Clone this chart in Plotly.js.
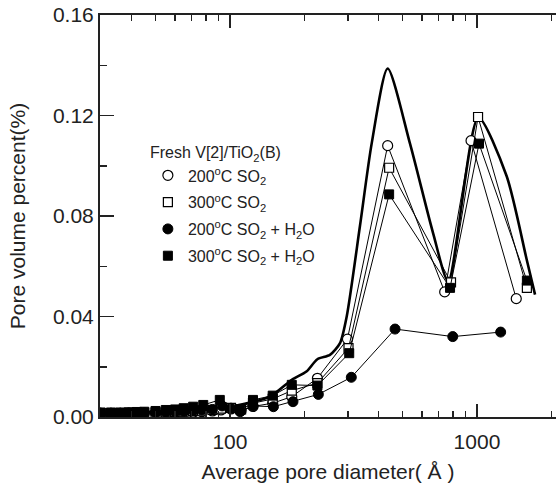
<!DOCTYPE html>
<html>
<head>
<meta charset="utf-8">
<script src="https://cdn.plot.ly/plotly-3.0.1.min.js"></script>
<style>html,body{margin:0;padding:0;background:#fff;}#chart{width:556px;height:483px;}</style>
</head>
<body>
<div id="chart"></div>
<script>
// Fresh V[2]/TiO2(B) (thick curve)
const freshX = [30, 40, 50, 60, 70, 80, 90, 100, 145, 178, 204, 226, 254, 279, 297, 336, 375, 435, 535, 665, 765, 1012, 1318, 1589, 1718];
const freshY = [0.0015, 0.0017, 0.002, 0.0022, 0.0025, 0.003, 0.0035, 0.0041, 0.0081, 0.0148, 0.0181, 0.023, 0.0247, 0.0294, 0.040, 0.076, 0.109, 0.1387, 0.109, 0.073, 0.054, 0.1192, 0.0959, 0.0627, 0.0487];

// 200°C SO2 (open circles)
const so2_200X = [30, 33, 36, 39, 42, 45, 50, 55, 60, 65, 71, 77, 85, 92, 101, 111, 124, 149, 178, 226, 299, 435, 740, 946, 1442];
const so2_200Y = [0.0015, 0.0015, 0.0015, 0.0015, 0.0015, 0.0015, 0.0016, 0.0016, 0.0017, 0.0018, 0.0019, 0.0021, 0.0024, 0.0028, 0.0032, 0.0026, 0.0042, 0.0055, 0.0081, 0.0154, 0.031, 0.108, 0.0498, 0.110, 0.0471];

// 300°C SO2 (open squares)
const so2_300X = [30, 33, 36, 39, 42, 45, 50, 55, 60, 65, 71, 77, 85, 92, 101, 111, 124, 149, 178, 226, 302, 441, 785, 1010, 1592];
const so2_300Y = [0.0016, 0.0016, 0.0016, 0.0016, 0.0017, 0.0017, 0.0018, 0.0019, 0.002, 0.0021, 0.0023, 0.0025, 0.0028, 0.0033, 0.0036, 0.003, 0.0055, 0.0072, 0.0105, 0.0135, 0.0274, 0.0992, 0.0536, 0.1194, 0.0514];

// 200°C SO2 + H2O (filled circles)
const h2o_200X = [30, 33, 36, 39, 42, 45, 50, 55, 60, 65, 71, 77, 85, 93, 101, 110, 124, 150, 180, 228, 310, 466, 798, 1247];
const h2o_200Y = [0.0015, 0.0015, 0.0015, 0.0016, 0.0016, 0.0017, 0.0018, 0.0019, 0.002, 0.0022, 0.0025, 0.0028, 0.003, 0.0044, 0.0035, 0.0021, 0.0044, 0.0041, 0.0061, 0.009, 0.0158, 0.035, 0.032, 0.0338];

// 300°C SO2 + H2O (filled squares)
const h2o_300X = [30, 33, 36, 39, 42, 45, 50, 55, 60, 65, 71, 78, 91, 110, 124, 149, 178, 226, 304, 441, 778, 1019, 1592];
const h2o_300Y = [0.0018, 0.0018, 0.0018, 0.0019, 0.002, 0.0021, 0.0024, 0.0028, 0.003, 0.0035, 0.0041, 0.0048, 0.0068, 0.0031, 0.0068, 0.0085, 0.0128, 0.0125, 0.0254, 0.0886, 0.0514, 0.1088, 0.0543];

const legendTitle = "Fresh V[2]/TiO<sub>2</sub>(B)";
const seriesNames = ["200<sup>o</sup>C SO<sub>2</sub>", "300<sup>o</sup>C SO<sub>2</sub>", "200<sup>o</sup>C SO<sub>2</sub> + H<sub>2</sub>O", "300<sup>o</sup>C SO<sub>2</sub> + H<sub>2</sub>O"];
const xTickVals = [100, 1000];
const xTickText = ["100", "1000"];
const xMinorVals = [40, 50, 60, 70, 80, 90, 200, 300, 400, 500, 600, 700, 800, 900, 2000];

const markerStyles = [
  {symbol: 'circle', size: 10, color: '#fff', line: {color: '#000', width: 1.2}},
  {symbol: 'square', size: 9, color: '#fff', line: {color: '#000', width: 1.2}},
  {symbol: 'circle', size: 10, color: '#000', line: {color: '#000', width: 1}},
  {symbol: 'square', size: 9, color: '#000', line: {color: '#000', width: 1}}
];
const xs = [so2_200X, so2_300X, h2o_200X, h2o_300X];
const ys = [so2_200Y, so2_300Y, h2o_200Y, h2o_300Y];

const traces = [{
  x: freshX, y: freshY, mode: 'lines', name: legendTitle,
  line: {color: '#000', width: 2.6, shape: 'spline', smoothing: 0.7},
  showlegend: false, hoverinfo: 'skip'
}];
for (let i = 0; i < 4; i++) {
  traces.push({x: xs[i], y: ys[i], mode: 'lines+markers', name: seriesNames[i],
    line: {color: '#000', width: 1}, marker: markerStyles[i], showlegend: false});
}
for (let i = 0; i < 4; i++) {
  traces.push({x: [null], y: [null], mode: 'markers', name: seriesNames[i],
    marker: markerStyles[i], legendgroup: 'g' + i, showlegend: true});
}

const font = {family: 'Arial, "Liberation Sans", sans-serif', color: '#222'};
const layout = {
  width: 556, height: 483,
  margin: {l: 100, r: 0, t: 15, b: 66},
  paper_bgcolor: '#fff', plot_bgcolor: '#fff',
  font: Object.assign({size: 21}, font),
  showlegend: true,
  legend: {
    x: 0.105, y: 0.695, xanchor: 'left', yanchor: 'top',
    bgcolor: 'rgba(0,0,0,0)', borderwidth: 0,
    font: Object.assign({}, font, {size: 16}),
    title: {text: legendTitle, font: Object.assign({}, font, {size: 16})},
    traceorder: 'grouped', tracegroupgap: 3
  },
  xaxis: {
    type: 'log', range: [Math.log10(29.8), 3.3198],
    tickmode: 'array', tickvals: xTickVals, ticktext: xTickText,
    ticks: 'inside', ticklen: 13, tickwidth: 1.5, tickcolor: '#222',
    ticklabelstandoff: 5,
    minor: {tickmode: 'array', tickvals: xMinorVals, ticks: 'inside', ticklen: 6, tickwidth: 1.5, tickcolor: '#222'},
    showline: true, linewidth: 2, linecolor: '#222', mirror: 'ticks',
    showgrid: false, zeroline: false,
    tickfont: Object.assign({size: 21}, font),
    title: {text: 'Average pore diameter( Å )', font: Object.assign({size: 21}, font), standoff: 12}
  },
  yaxis: {
    range: [0, 0.16], tickmode: 'linear', tick0: 0, dtick: 0.04, tickformat: '.2f',
    ticks: 'inside', ticklen: 14, tickwidth: 1.5, tickcolor: '#222',
    minor: {dtick: 0.02, ticks: 'inside', ticklen: 7, tickwidth: 1.5, tickcolor: '#222'},
    showline: true, linewidth: 2, linecolor: '#222', mirror: false,
    showgrid: false, zeroline: false,
    tickfont: Object.assign({size: 21}, font),
    title: {text: 'Pore volume percent(%)', font: Object.assign({size: 21}, font), standoff: 22}
  }
};
Plotly.newPlot('chart', traces, layout, {staticPlot: true, displayModeBar: false});
</script>
</body>
</html>
